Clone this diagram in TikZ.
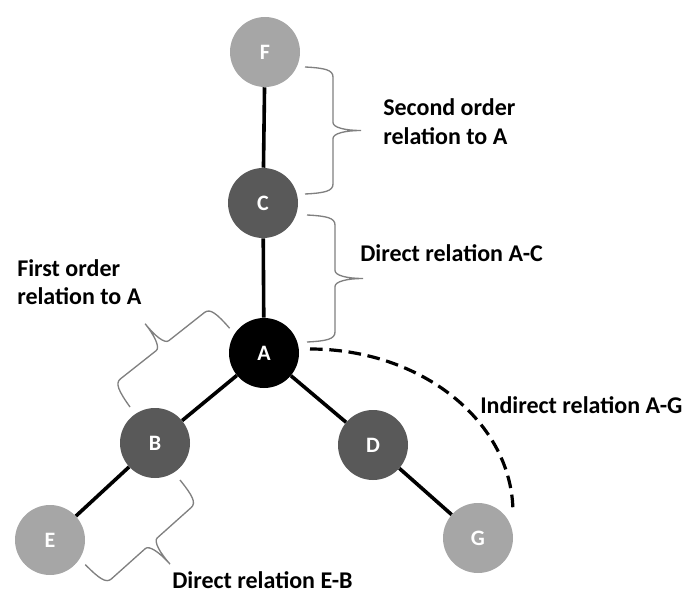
\documentclass[tikz,border=0pt]{standalone}
\usepackage{fontspec}
\setmainfont{Carlito}
\definecolor{lightnode}{HTML}{A6A6A6}
\definecolor{darknode}{HTML}{595959}
\definecolor{bracegray}{HTML}{808080}
\tikzset{
  vertex/.style={circle,minimum size=52.5pt,inner sep=0pt,text=white,
    font=\bfseries\fontsize{16.5}{18}\selectfont},
  outer/.style={vertex,fill=lightnode},
  inner/.style={vertex,fill=darknode},
  root/.style={vertex,fill=black},
  link/.style={line width=2.7pt},
  indirect/.style={line width=2.4pt,dash pattern=on 9.5pt off 5pt},
  label/.style={anchor=west,align=left,inner sep=0pt,
    font=\bfseries\fontsize{18}{21.5}\selectfont},
  % curly brace of length 127 and depth 56, tip on the left of its direction
  pics/relbrace/.style={code={
    \draw[bracegray,line width=1pt]
      (0,0) .. controls (1,20) and (3,28) .. (10,28)
      -- (55.5,28) .. controls (60.5,28) and (63.5,40) .. (63.5,56)
      .. controls (63.5,40) and (66.5,28) .. (71.5,28)
      -- (117,28) .. controls (124,28) and (126,20) .. (127,0);
  }}
}
\begin{document}
\begin{tikzpicture}[x=0.75pt,y=0.75pt]
\useasboundingbox (0,0) rectangle (689,594);

% nodes
\node[outer] (F) at (265,542) {F};
\node[inner] (C) at (263,391) {C};
\node[root]  (A) at (264,241) {A};
\node[inner] (B) at (155,151) {B};
\node[inner] (D) at (373,149) {D};
\node[outer] (E) at (50,54)   {E};
\node[outer] (G) at (478,56)  {G};

% direct links
\draw[link] (F) -- (C);
\draw[link] (C) -- (A);
\draw[link] (A) -- (B);
\draw[link] (B) -- (E);
\draw[link] (A) -- (D);
\draw[link] (D) -- (G);

% indirect link A-G
\coordinate (arcstart) at (310,245);
\draw[indirect] (arcstart) arc[start angle=90,end angle=0,x radius=203,y radius=164] coordinate (arcend);

% braces
\pic[rotate=-90] (bFC) at (305,527) {relbrace};
\pic[rotate=-90] (bCA) at (307,379) {relbrace};
\pic[rotate=38.3] (bAB) at (130,187) {relbrace};
\pic[rotate=221.8] (bBE) at (180,114) {relbrace};

% texts
\node[label] (second) at (383,472) {Second order\\relation to A};
\node[label] (directAC) at (360,341) {Direct relation A-C};
\node[label] (first) at (17,312) {First order\\relation to A};
\node[label] (indirectAG) at (480,189) {Indirect relation A-G};
\node[label] (directEB) at (172,14) {Direct relation E-B};
\end{tikzpicture}
\end{document}
